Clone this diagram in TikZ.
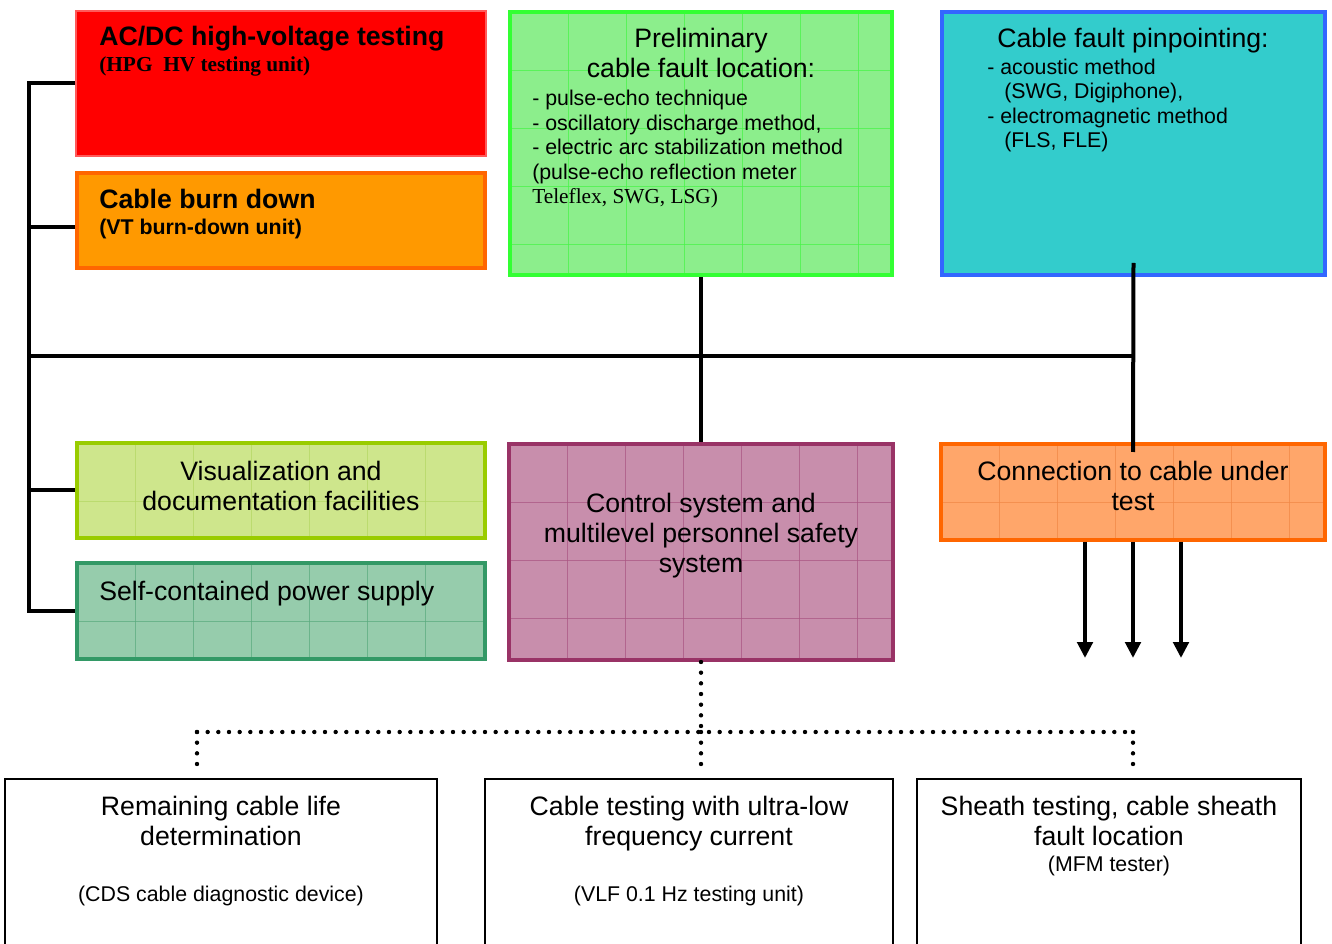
\documentclass[tikz,border=0pt]{standalone}
\usepackage{fontspec}
\setmainfont{Liberation Sans}
\newfontfamily\timesf{Liberation Serif}
\usetikzlibrary{fit,calc,arrows.meta}

\definecolor{redF}{RGB}{255,0,0}
\definecolor{redD}{RGB}{255,90,90}
\definecolor{burnF}{RGB}{255,153,0}
\definecolor{burnD}{RGB}{255,102,0}
\definecolor{preF}{RGB}{140,238,140}
\definecolor{preD}{RGB}{51,255,51}
\definecolor{preG}{RGB}{70,245,70}
\definecolor{pinF}{RGB}{51,204,204}
\definecolor{pinD}{RGB}{51,102,255}
\definecolor{visF}{RGB}{206,230,140}
\definecolor{visD}{RGB}{153,204,0}
\definecolor{visG}{RGB}{180,215,100}
\definecolor{powF}{RGB}{150,204,172}
\definecolor{powD}{RGB}{51,153,102}
\definecolor{powG}{RGB}{90,170,125}
\definecolor{conF}{RGB}{200,142,172}
\definecolor{conD}{RGB}{153,51,102}
\definecolor{conG}{RGB}{170,85,130}
\definecolor{cabF}{RGB}{255,166,106}
\definecolor{cabD}{RGB}{255,102,0}
\definecolor{cabG}{RGB}{240,135,70}

\tikzset{
  boxbase/.style={inner sep=0pt, line width=3pt},
  gridded/.style={path picture={
    \foreach \i in {1,...,7}
      \draw[#1, line width=0.6pt, opacity=0.7] ([xshift=\i*43.5pt]path picture bounding box.north west) -- ([xshift=\i*43.5pt]path picture bounding box.south west);
    \foreach \i in {1,...,4}
      \draw[#1, line width=0.6pt, opacity=0.7] ([yshift=-\i*43.5pt]path picture bounding box.north west) -- ([yshift=-\i*43.5pt]path picture bounding box.north east);
  }},
  plainbox/.style={inner sep=0pt, draw=black, line width=1.1pt, fill=white},
  big/.style={font=\fontsize{20}{22.5}\selectfont, inner sep=0pt},
  small/.style={font=\fontsize{16}{18.4}\selectfont, inner sep=0pt},
  bus/.style={line width=3pt},
  arr/.style={line width=3pt, -{Triangle[length=12pt,width=11.5pt]}},
  dots/.style={line width=3.3pt, line cap=round, dash pattern=on 0pt off 8pt},
}

\begin{document}
\begin{tikzpicture}[x=0.75pt, y=-0.75pt]
\useasboundingbox (0,0) rectangle (1332,944);
\clip (0,0) rectangle (1332,944);
\fill[white] (0,0) rectangle (1332,944);

% boxes
\node[boxbase, draw=redD, line width=1pt, fill=redF, fit={(76,11)(486,156)}] (red) {};
\node[boxbase, draw=burnD, fill=burnF, fit={(77,173)(485,268)}] (burn) {};
\node[boxbase, draw=preD, fill=preF, gridded=preG, fit={(510,12)(892,275)}] (pre) {};
\node[boxbase, draw=pinD, fill=pinF, fit={(942,12)(1325,275)}] (pin) {};
\node[boxbase, draw=visD, fill=visF, gridded=visG, fit={(77,443)(485,538)}] (vis) {};
\node[boxbase, draw=powD, fill=powF, gridded=powG, fit={(77,563)(485,659)}] (pow) {};
\node[boxbase, draw=conD, fill=conF, gridded=conG, fit={(509,444)(893,660)}] (ctl) {};
\node[boxbase, draw=cabD, fill=cabF, gridded=cabG, fit={(941,444)(1325,540)}] (cab) {};
\node[plainbox, fit={(5,779)(437,990)}] (b1) {};
\node[plainbox, fit={(485,779)(893,990)}] (b2) {};
\node[plainbox, fit={(917,779)(1301,990)}] (b3) {};

% texts (multi-line nodes: base = last line)
\node[big, font=\fontsize{20}{22.5}\selectfont\bfseries, anchor=base west] (redT) at (99,46) {AC/DC high-voltage testing};
\node[small, font=\fontsize{16}{18.4}\selectfont\timesf\bfseries, anchor=base west] (redS) at (99,72) {(HPG\ \ HV testing unit)};
\node[big, font=\fontsize{20}{22.5}\selectfont\bfseries, anchor=base west] (burnT) at (99,209) {Cable burn down};
\node[small, font=\fontsize{16}{18.4}\selectfont\bfseries, anchor=base west] (burnS) at (99,235) {(VT burn-down unit)};

\node[big, align=center, anchor=base] (preT) at (701,78) {Preliminary\\cable fault location:};
\node[small, align=left, anchor=base west] (preS) at (532,204) {- pulse-echo technique\\- oscillatory discharge method,\\- electric arc stabilization method\\(pulse-echo reflection meter\\{\timesf Teleflex, SWG, LSG)}};

\node[big, anchor=base] (pinT) at (1133,48) {Cable fault pinpointing:};
\node[small, align=left, anchor=base west] (pinS) at (987,148) {- acoustic method\\\hspace*{12.75pt}(SWG, Digiphone),\\- electromagnetic method\\\hspace*{12.75pt}(FLS, FLE)};

\node[big, align=center, anchor=base] (visT) at (281,511) {Visualization and\\documentation facilities};
\node[big, anchor=base west] (powT) at (99,600) {Self-contained power supply};
\node[big, align=center, anchor=base] (ctlT) at (701,573) {Control system and\\multilevel personnel safety\\system};
\node[big, align=center, anchor=base] (cabT) at (1133,511) {Connection to cable under\\test};

\node[big, align=center, anchor=base] (b1T) at (221,845) {Remaining cable life\\determination};
\node[small, anchor=base] (b1S) at (221,901) {(CDS cable diagnostic device)};
\node[big, align=center, anchor=base] (b2T) at (689,845) {Cable testing with ultra-low\\frequency current};
\node[small, anchor=base] (b2S) at (689,901) {(VLF 0.1 Hz testing unit)};
\node[big, align=center, anchor=base] (b3T) at (1109,845) {Sheath testing, cable sheath\\fault location};
\node[small, anchor=base] (b3S) at (1109,871) {(MFM tester)};

% bus connectors
\coordinate (bx) at (29,356);
\coordinate (hb) at (1133,356);
\draw[bus] (red.west) -- (red.west -| bx) -- (pow.west -| bx) -- (pow.west);
\draw[bus] ($(burn.west)+(0,7)$) -- ($(burn.west -| bx)+(0,7)$);
\draw[bus] (vis.west) -- (vis.west -| bx);
\draw[bus] (bx) -- (hb);
\draw[bus] (pre.south) -- (ctl.north);
\draw[bus] ([yshift=10.5pt]pin.south) -- ([yshift=-7.5pt]cab.north);

% arrows
\coordinate (a1) at (1085,658);
\coordinate (a2) at (1133,658);
\coordinate (a3) at (1181,658);
\draw[arr] (cab.south -| a1) -- (a1);
\draw[arr] (cab.south -| a2) -- (a2);
\draw[arr] (cab.south -| a3) -- (a3);

% dotted connectors
\coordinate (dm) at (701,732);
\coordinate (d1) at (197,732);
\coordinate (d3) at (1133,732);
\draw[dots] (ctl.south) -- (dm);
\draw[dots] (d1) -- (d3);
\draw[dots] (d1) -- ([yshift=3.5pt]d1 |- b1.north);
\draw[dots] (dm) -- ([yshift=3.5pt]dm |- b2.north);
\draw[dots] (d3) -- ([yshift=3.5pt]d3 |- b3.north);
\end{tikzpicture}
\end{document}
